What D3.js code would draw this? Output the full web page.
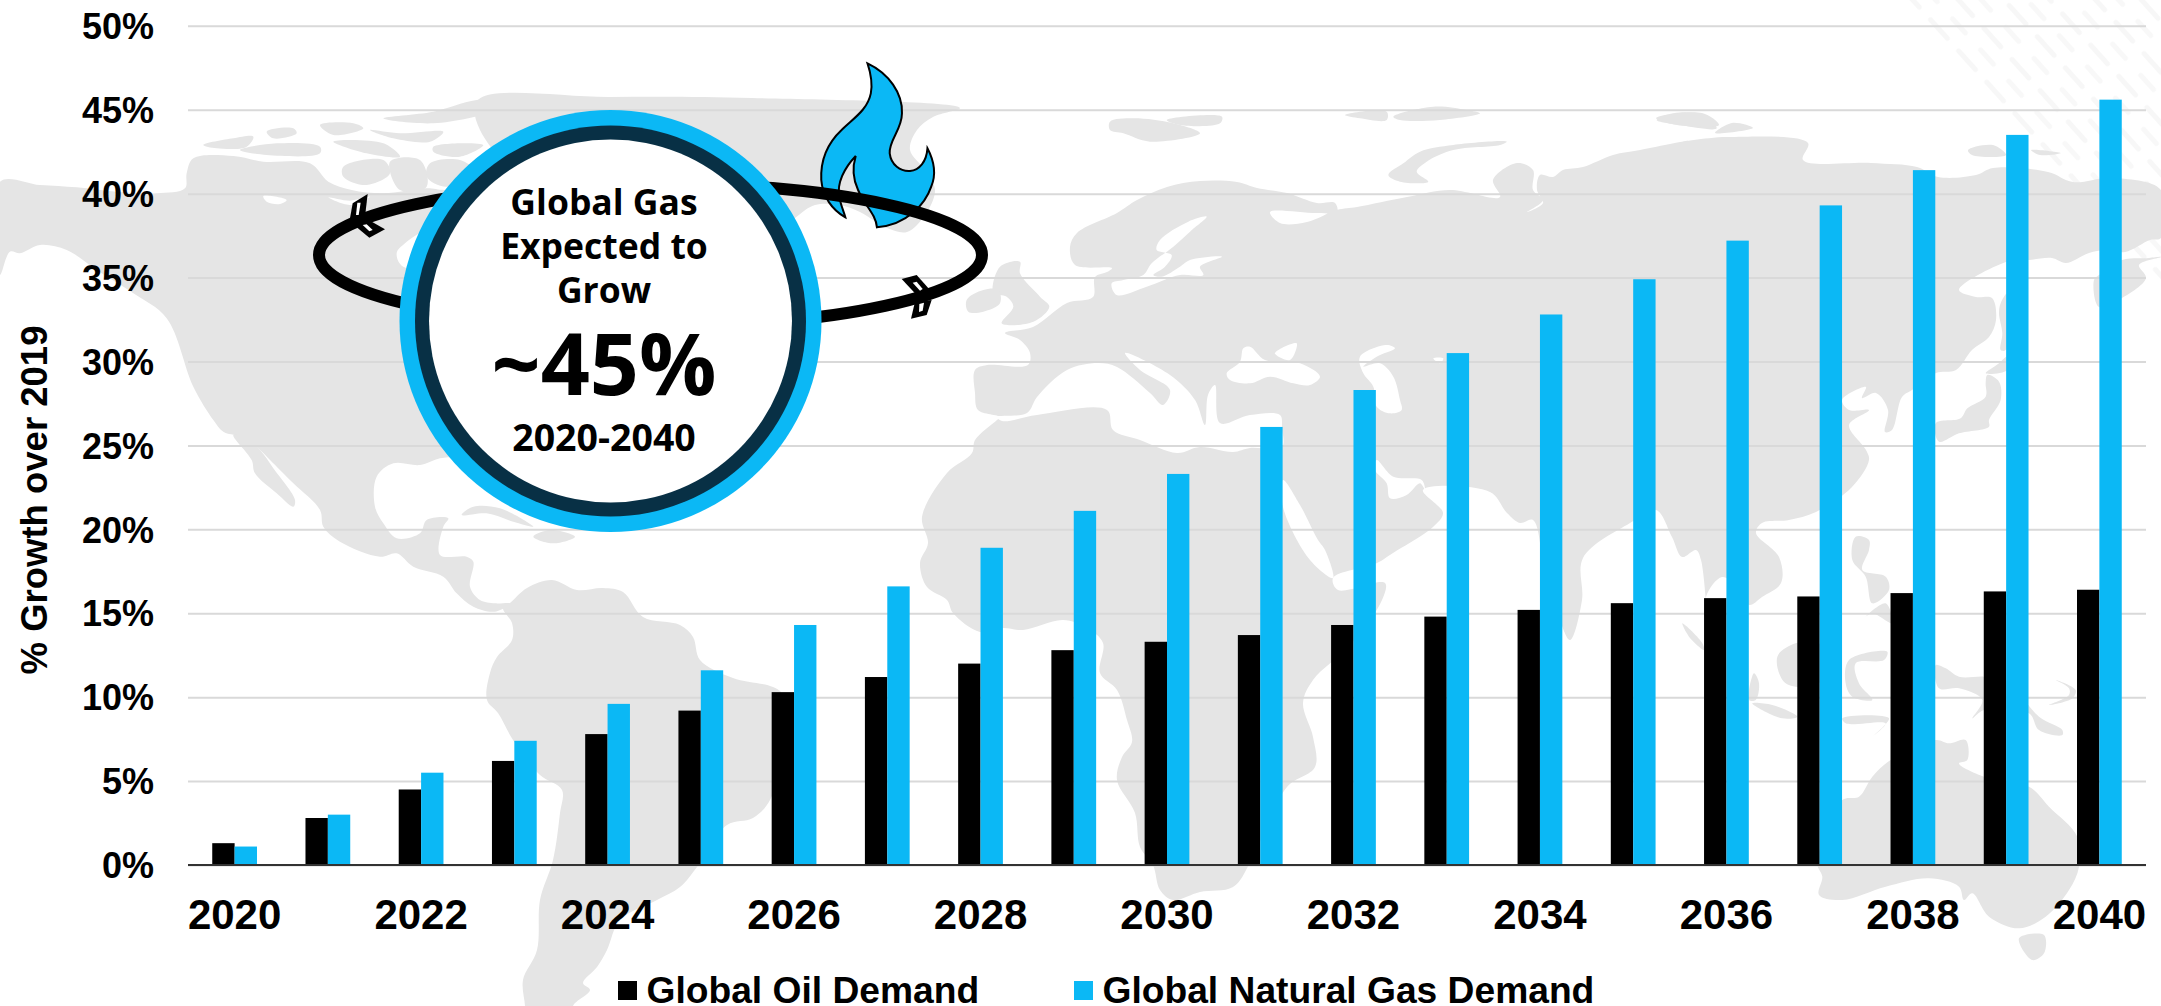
<!DOCTYPE html>
<html><head><meta charset="utf-8">
<script src="https://cdnjs.cloudflare.com/ajax/libs/d3/7.8.5/d3.min.js"></script>
<style>html,body{margin:0;padding:0;background:#fff;overflow:hidden}svg{display:block}</style>
</head><body><svg id="c" width="2161" height="1006"></svg>
<script>
// ---------- chart data ----------
const years = [2020,2021,2022,2023,2024,2025,2026,2027,2028,2029,2030,2031,2032,2033,2034,2035,2036,2037,2038,2039,2040];
const oilDemand = [1.3,2.8,4.5,6.2,7.8,9.2,10.3,11.2,12.0,12.8,13.3,13.7,14.3,14.8,15.2,15.6,15.9,16.0,16.2,16.3,16.4];
const gasDemand = [1.1,3.0,5.5,7.4,9.6,11.6,14.3,16.6,18.9,21.1,23.3,26.1,28.3,30.5,32.8,34.9,37.2,39.3,41.4,43.5,45.6];
const seriesNames = ["Global Oil Demand","Global Natural Gas Demand"];
const yTicks = [0,5,10,15,20,25,30,35,40,45,50];
const xTickYears = years.filter(y=>y%2===0);
const yTitle = "% Growth over 2019";
const calloutLines = ["Global Gas","Expected to","Grow"];
const calloutValue = "~45%";
const calloutRange = "2020-2040";

// ---------- backdrop map outline (decorative picture behind the chart) ----------
const at=(ox,oy,pts,sx=3,sy=3)=>pts.map(([x,y])=>[ox+x/sx,oy+y/sy]);
const land=[
 // Eurasia + Africa
 [[997,420],[1000,417],[978,410],[975,393],[975,370],[987,365],[1028,365],[1030,353],[1020,340],[1005,333],[1033,327],[1067,303],[1093,297],[1095,277],[1107,272],[1112,268],[1075,265],[1070,247],[1077,233],[1117,213],[1137,200],[1167,187],[1200,181],[1237,182],[1257,188],[1287,193],[1317,203],[1335,203],[1337,212],[1317,213],[1270,212],[1280,223],[1307,222],[1337,210],[1357,207],[1407,197],[1450,190],[1500,197],[1493,180],[1517,163],[1533,170],[1533,190],[1543,200],[1527,212],[1543,203],[1537,190],[1540,175],[1553,177],[1563,170],[1583,167],[1613,155],[1640,150],[1680,142],[1694,140],[1728,137],[1808,143],[1803,160],[1871,163],[1917,167],[1938,177],[1976,175],[1993,168],[2048,172],[2073,182],[2111,178],[2161,190],[2161,238],[2150,240],[2125,252],[2105,250],[2089,253],[2066,263],[2052,258],[2029,260],[2006,262],[1959,290],[1976,297],[1992,298],[1996,320],[1989,337],[1972,350],[1956,370],[1936,373],[1912,390],[1902,397],[1892,430],[1885,432],[1888,410],[1876,393],[1862,398],[1866,387],[1842,400],[1849,410],[1869,410],[1849,425],[1866,450],[1869,460],[1852,487],[1816,512],[1789,520],[1762,523],[1756,533],[1779,557],[1781,583],[1762,597],[1749,605],[1735,585],[1722,577],[1706,597],[1708,630],[1701,560],[1696,550],[1682,557],[1672,537],[1656,510],[1630,523],[1583,558],[1582,600],[1570,640],[1558,615],[1545,575],[1533,520],[1520,523],[1507,513],[1490,492],[1423,490],[1443,513],[1433,527],[1393,553],[1377,563],[1333,578],[1338,590],[1385,583],[1382,600],[1350,645],[1313,680],[1303,703],[1313,737],[1315,767],[1287,787],[1250,863],[1233,887],[1200,892],[1173,900],[1160,890],[1153,865],[1140,847],[1135,813],[1117,780],[1122,757],[1132,742],[1127,720],[1117,690],[1100,673],[1103,643],[1087,628],[1063,620],[1023,630],[1003,628],[980,632],[953,613],[947,600],[927,587],[920,563],[928,543],[922,517],[947,473],[972,453],[975,440]],
 // North America
 at(0,90,[[0,275],[120,285],[230,292],[350,305],[470,310],[555,295],[560,250],[580,205],[700,198],[790,215],[930,220],[985,275],[1055,300],[1150,310],[1280,295],[1340,300],[1700,250],[1900,700],[1700,1150],[1566,1160],[1460,1100]]).concat(at(180,380,[[830,230],[780,235],[720,255],[640,250],[590,290],[585,380],[610,430],[650,475],[720,460],[740,420],[805,415],[790,440],[780,525],[860,530],[880,545],[870,620],[900,660],[945,670],[990,670],[945,695],[880,680],[830,640],[790,590],[700,560],[650,520],[600,530],[480,485],[430,440],[420,390],[340,310],[270,240],[240,210],[180,170],[130,155],[100,120],[40,20]])).concat(at(0,90,[[500,685],[400,610],[290,540],[200,480],[120,465],[60,490],[30,485],[0,555]])),
 // Baja California
 at(180,380,[[160,165],[215,240],[225,280],[290,340],[340,380],[345,360],[280,265],[240,210],[190,170]]),
 // South America
 [[510,603],[527,588],[552,580],[577,590],[603,588],[623,592],[643,617],[680,625],[693,637],[700,660],[733,678],[773,687],[783,695],[785,740],[770,800],[753,818],[727,825],[697,867],[680,887],[657,900],[620,920],[607,950],[597,967],[583,983],[590,990],[573,1006],[573,1020],[525,1020],[525,1006],[523,980],[537,950],[540,900],[553,860],[560,813],[562,790],[540,775],[513,740],[498,713],[487,700],[490,673],[497,657],[512,640],[512,623],[503,608]],
 // Cuba, Hispaniola
 at(180,380,[[845,405],[880,380],[960,385],[1060,440],[1000,425],[920,400]]),
 at(180,380,[[1060,470],[1110,450],[1185,470],[1120,490]]),
 // Canadian Arctic
 at(0,90,[[610,165],[700,145],[760,140],[740,170],[650,175]]),
 at(0,90,[[800,125],[880,115],[890,130],[820,145]]),
 at(0,90,[[720,180],[830,160],[960,170],[960,190],[800,195]]),
 at(0,90,[[960,105],[1060,100],[1090,115],[1000,135]]),
 at(0,90,[[1110,120],[1200,130],[1330,125],[1290,155],[1180,145]]),
 at(0,90,[[1150,85],[1300,65],[1430,30],[1566,30],[1500,60],[1300,100]]),
 at(0,90,[[1000,155],[1150,160],[1200,200],[1100,190]]),
 at(0,90,[[1300,170],[1450,165],[1380,200],[1300,185]]),
 at(0,90,[[1030,230],[1150,210],[1170,250],[1100,285],[1030,260]]),
 at(0,90,[[1170,215],[1260,210],[1280,290],[1200,300]]),
 at(0,90,[[1290,220],[1380,210],[1420,240],[1340,290],[1280,260]]),
 // Greenland
 [[478,100],[610,97],[752,98],[960,108],[933,117],[917,130],[910,150],[925,170],[935,190],[925,215],[907,232],[887,228],[860,212],[840,205],[815,205],[795,218],[760,250],[600,240],[480,130]],
 // British Isles
 at(700,100,[[900,500],[960,485],[960,520],[1020,590],[1048,620],[1000,665],[905,670],[940,620],[920,590],[880,580]]),
 at(700,100,[[800,600],[850,570],[895,570],[900,610],[850,635],[805,635]]),
 // Iceland & arctic islands
 at(700,100,[[1230,65],[1300,55],[1420,70],[1500,100],[1350,125],[1270,100],[1230,90]]),
 at(700,100,[[1400,60],[1566,50],[1560,70],[1440,75]]),
 at(1200,100,[[565,225],[610,190],[660,155],[760,135],[920,125],[900,135],[760,150],[680,185],[650,215],[685,245],[600,245]]),
 at(1200,100,[[435,45],[560,35],[560,60],[480,55]]),
 at(1200,100,[[580,50],[700,20],[800,30],[840,40],[720,60],[600,60]]),
 at(1200,100,[[1370,60],[1420,40],[1510,45],[1550,85],[1440,75]]),
 [[1656,118],[1702,113],[1719,125],[1677,125]],
 [[1715,133],[1732,123],[1753,128]],
 [[1968,150],[1993,145],[2006,155],[1972,155]],
 [[2031,150],[2061,153],[2040,155]],
 // Mediterranean islands
 at(700,100,[[1185,820],[1210,820],[1210,895],[1185,895]]),
 at(700,100,[[1270,915],[1320,920],[1310,940]]),
 // Kamchatka-like lobe and Sakhalin
 [[2094,280],[2099,307],[2122,298],[2146,278],[2139,265],[2161,257],[2149,258],[2122,260],[2099,275]],
 at(1639,200,[[1080,340],[1090,400],[1085,450],[1100,450],[1105,280],[1085,310]]),
 // Japan
 at(1639,200,[[1045,525],[1080,545],[1085,600],[1050,660],[1050,680],[960,700],[900,725],[890,670],[965,655],[985,625],[1040,590],[1040,550]]),
 at(1639,200,[[1040,520],[1080,490],[1105,470],[1105,510]]),
 // Philippines
 at(1639,200,[[650,1010],[690,1020],[690,1050],[670,1110],[740,1130],[750,1170],[700,1210],[680,1130],[640,1080]]),
 at(1639,200,[[680,1250],[740,1210],[760,1270],[700,1240]]),
 // Indonesia, New Guinea
 at(1639,600,[[130,70],[190,130],[195,150],[150,110]]),
 at(1639,600,[[415,170],[470,130],[540,130],[540,250],[440,250]]),
 at(1639,600,[[630,180],[745,155],[735,180],[650,190],[660,250],[700,300],[640,290],[620,250]]),
 at(1639,600,[[330,300],[345,220],[360,250],[350,300]]),
 at(1639,600,[[340,310],[400,315],[475,350],[430,355]]),
 at(1639,600,[[610,355],[750,355],[700,410],[740,370],[620,370]]),
 at(1639,600,[[890,195],[920,205],[960,230],[1035,230],[1100,240],[1200,350],[1270,390],[1270,405],[1200,390],[1170,340],[1035,330],[1000,355],[1030,300],[960,265],[900,265]]),
 at(1639,600,[[1250,240],[1310,270],[1300,295],[1230,315],[1290,285],[1290,265]]),
 // Australia, Tasmania
 at(1639,600,[[890,420],[930,430],[980,420],[985,480],[960,490],[1035,530],[1170,560],[1230,620],[1315,710],[1320,800],[1290,870],[1220,950],[1140,985],[1050,950],[1000,880],[975,900],[960,860],[870,835],[740,860],[610,900],[540,885],[550,830],[535,790],[610,600],[660,590],[700,530],[755,480]]),
 at(1639,600,[[1140,1015],[1215,1005],[1215,1060],[1180,1080]])
];
const seas=[
 // Mediterranean
 [[997,417],[1027,413],[1037,397],[1067,370],[1098,363],[1117,367],[1150,393],[1163,405],[1170,390],[1140,370],[1125,353],[1170,375],[1195,400],[1205,425],[1208,395],[1215,385],[1220,423],[1250,415],[1280,415],[1282,428],[1282,447],[1250,448],[1233,452],[1200,447],[1177,453],[1140,440],[1113,430],[1107,410],[1037,415],[1002,421]],
 // Black Sea, Azov, Caspian, Aral
 at(1200,100,[[80,820],[120,785],[130,745],[150,740],[195,780],[300,790],[360,830],[330,855],[280,850],[210,830],[150,850],[90,840]]),
 at(1200,100,[[225,760],[290,730],[270,780]]),
 at(1200,100,[[480,770],[560,735],[585,745],[530,770],[490,800],[540,790],[580,830],[600,900],[605,930],[570,940],[530,920],[520,860],[490,820]]),
 at(1200,100,[[700,775],[730,775],[720,790]]),
 // Red Sea, Persian Gulf
 [[1283,480],[1300,505],[1318,540],[1325,550],[1333,578],[1310,560],[1283,507]],
 at(1200,100,[[530,1080],[580,1130],[665,1140],[675,1170],[660,1150],[620,1185],[570,1195],[560,1150],[525,1110]]),
 // Baltic
 at(700,100,[[1520,350],[1465,365],[1380,420],[1370,450],[1415,465],[1395,500],[1360,525],[1385,530],[1440,500],[1470,480],[1566,470],[1500,500],[1510,525],[1440,525],[1340,560],[1250,585],[1235,550],[1270,540],[1330,525],[1355,490],[1420,440],[1470,395]]),
 // Hudson Bay and northern channels
 at(0,90,[[1190,490],[1215,460],[1280,420],[1420,400],[1420,520],[1210,530]]),
 at(0,90,[[790,318],[860,330],[840,342],[800,335]]),
 at(0,90,[[985,322],[1050,332],[1110,320],[1050,345]])
];
const arrows=[
 {o:[0,90], barbs:[[[1058,340],[1103,312],[1095,380],[1050,385]],[[1062,405],[1110,392],[1155,418],[1108,443]]], slits:[[[1072,338],[1082,338],[1076,375],[1068,375]],[[1088,405],[1100,403],[1118,420],[1108,424]]]},
 {o:[700,100], barbs:[[[605,537],[650,525],[690,570],[680,582],[645,580]],[[645,605],[695,600],[680,645],[633,656]]], slits:[[[638,548],[650,545],[668,567],[660,572]],[[658,612],[672,608],[668,632],[657,636]]]}
];

// ---------- scales ----------
const colors=["#000000","#0BB8F5"];
const x=d3.scaleBand().domain(years).range([188,2146]).paddingInner(0.52).paddingOuter(0.26);
const xs=d3.scaleBand().domain([0,1]).range([0,x.bandwidth()]);
const y=d3.scaleLinear().domain([0,50]).range([865,25.8]);
const svg=d3.select("#c");
const poly=d3.line().curve(d3.curveLinearClosed);
const coast=d3.line().curve(d3.curveCatmullRomClosed.alpha(0.5));
const sans="'Liberation Sans',Arial,sans-serif";

// ---------- backdrop ----------
const defs=svg.append("defs");
const pat=defs.append("pattern").attr("id","streak").attr("width",42).attr("height",34).attr("patternUnits","userSpaceOnUse").attr("patternTransform","rotate(48)");
pat.append("rect").attr("x",2).attr("y",4).attr("width",30).attr("height",5).attr("rx",2.5).attr("fill","#f7f7f7");
pat.append("rect").attr("x",16).attr("y",21).attr("width",24).attr("height",5).attr("rx",2.5).attr("fill","#f8f8f8");
svg.append("path").attr("d",poly([[1905,0],[2161,0],[2161,290]])).attr("fill","url(#streak)");
const mapG=svg.append("g");
mapG.selectAll("path.l").data(land).join("path").attr("class","l").attr("d",d=>coast(d)).attr("fill","#e5e5e5");
mapG.selectAll("path.s").data(seas).join("path").attr("class","s").attr("d",d=>coast(d)).attr("fill","#fff");

// ---------- axes ----------
const yAxis=svg.append("g").attr("transform","translate(188,0)")
  .call(d3.axisLeft(y).tickValues(yTicks).tickFormat(d=>d+"%").tickSize(-1958).tickPadding(34));
yAxis.select(".domain").remove();
yAxis.selectAll("line").attr("stroke","#d9d9d9").attr("stroke-width",2);
yAxis.selectAll("text").attr("font-family",sans).attr("font-weight",700).attr("font-size",36).attr("fill","#000").attr("dy","12.7").attr("y",0);

// ---------- bars ----------
const groups=svg.append("g").selectAll("g").data(years).join("g").attr("transform",d=>`translate(${x(d)},0)`);
[oilDemand,gasDemand].forEach((vals,si)=>{
  groups.append("rect").attr("x",xs(si)).attr("width",xs.bandwidth())
    .attr("y",(d,i)=>y(vals[i])).attr("height",(d,i)=>y(0)-y(vals[i])).attr("fill",colors[si]);
});
svg.append("line").attr("x1",188).attr("x2",2146).attr("y1",y(0)).attr("y2",y(0)).attr("stroke","#333").attr("stroke-width",2);

const xAxis=svg.append("g").attr("transform",`translate(0,${y(0)})`)
  .call(d3.axisBottom(x).tickValues(xTickYears).tickSize(0).tickPadding(0));
xAxis.select(".domain").remove();
xAxis.selectAll("text").attr("font-family",sans).attr("font-weight",700).attr("font-size",42).attr("fill","#000").attr("y",64).attr("dy",0);

svg.append("text").attr("transform","translate(47,500) rotate(-90)").attr("text-anchor","middle")
  .attr("font-family",sans).attr("font-weight",700).attr("font-size",36.5).text(yTitle);

// ---------- legend ----------
const legendX=[618,1074];
const leg=svg.append("g").selectAll("g").data(seriesNames).join("g").attr("transform",(d,i)=>`translate(${legendX[i]},0)`);
leg.append("rect").attr("y",981).attr("width",19).attr("height",19).attr("fill",(d,i)=>colors[i]);
leg.append("text").attr("x",28.5).attr("y",1002.5).attr("font-family",sans).attr("font-weight",700).attr("font-size",37.2).text(d=>d);

// ---------- callout: flame, orbit, disc ----------
svg.append("path").attr("transform","translate(280,40) scale(0.4719,0.3333)")
  .attr("d","M1245,70 C1290,100 1320,160 1318,220 C1318,270 1290,300 1292,340 C1295,375 1315,395 1335,393 C1355,390 1370,365 1372,325 C1385,360 1392,400 1380,440 C1368,490 1330,555 1265,562 C1262,520 1240,500 1225,450 C1215,420 1212,385 1220,348 C1195,385 1180,430 1185,470 C1188,495 1195,515 1198,532 C1170,510 1150,470 1147,420 C1145,360 1160,310 1190,270 C1215,235 1245,210 1252,160 C1256,130 1252,100 1245,70 Z")
  .attr("fill",colors[1]).attr("stroke","#000").attr("stroke-width",2).attr("vector-effect","non-scaling-stroke");
svg.append("ellipse").attr("cx",650.5).attr("cy",255).attr("rx",331.5).attr("ry",72).attr("fill","none").attr("stroke","#000").attr("stroke-width",12);
arrows.forEach(a=>{
  a.barbs.forEach(b=>svg.append("path").attr("d",poly(at(a.o[0],a.o[1],b))).attr("fill","#000"));
  a.slits.forEach(b=>svg.append("path").attr("d",poly(at(a.o[0],a.o[1],b))).attr("fill","#fff"));
});
const cx=610.5,cy=321;
svg.append("circle").attr("cx",cx).attr("cy",cy).attr("r",211).attr("fill",colors[1]);
svg.append("circle").attr("cx",cx).attr("cy",cy).attr("r",195.5).attr("fill","#083045");
svg.append("circle").attr("cx",cx).attr("cy",cy).attr("r",181.5).attr("fill","#fff");
const ctext=(t,yy,fs)=>svg.append("text").attr("x",604).attr("y",yy).attr("text-anchor","middle")
  .attr("font-family","'Open Sans',sans-serif").attr("font-weight",700).attr("font-size",fs).attr("fill","#000").text(t);
calloutLines.forEach((t,i)=>ctext(t,[215,259,303][i],35.5));
ctext(calloutValue,395,86);
ctext(calloutRange,450.5,37.5);
</script></body></html>
